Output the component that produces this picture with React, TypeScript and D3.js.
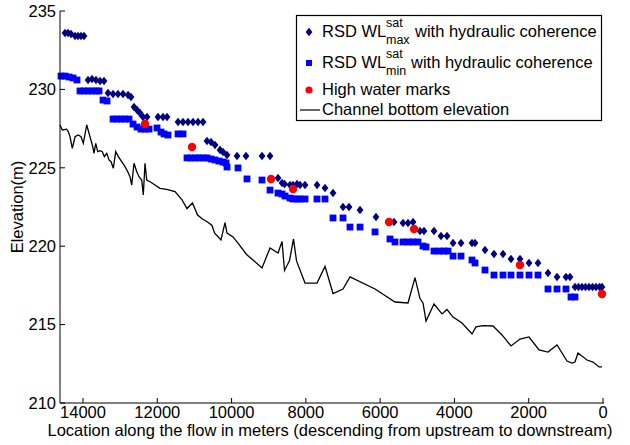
import React from "react";
import * as d3 from "d3";

// Channel bottom elevation (location m, elevation m)
const bottomX = [14620,14557,14439,14396,14350,14288,14215,14127,14054,13992,13900,13812,13739,13704,13658,13604,13542,13480,13426,13362,13300,13246,13184,13120,13049,12958,12869,12796,12735,12689,12627,12554,12492,12420,12377,12331,12285,12196,12062,11927,11747,11523,11335,11200,11052,10917,10783,10648,10527,10460,10285,10177,10123,9962,9827,9598,9423,9181,8965,8750,8642,8575,8440,8333,8252,8023,7700,7485,7269,7000,6812,6138,5600,5250,5062,4927,4846,4765,4550,4335,4200,4038,3796,3527,3419,3231,2962,2719,2477,2235,1992,1723,1481,1238,969,835,754,673,431,269,108,27];
const bottomY = [227.73,227.41,227.46,227.30,226.98,226.24,226.98,227.09,226.98,226.56,227.73,226.98,226.35,225.92,226.56,226.03,226.09,226.03,225.71,225.92,225.50,225.39,224.97,226.03,225.71,225.39,225.07,224.75,224.43,223.90,225.29,224.75,224.43,224.22,223.27,225.29,224.22,224.11,223.90,223.69,223.63,223.48,222.95,222.40,222.76,221.99,221.73,221.54,221.32,220.84,220.40,221.51,220.84,220.59,220.20,219.47,219.12,218.61,219.89,219.57,220.30,218.45,219.09,220.46,219.06,217.65,217.65,218.71,216.98,217.27,218.04,217.27,216.44,216.38,218.00,216.66,216.38,215.23,216.31,215.68,215.96,215.48,215.10,214.40,214.85,214.94,214.91,214.34,213.64,214.08,214.21,213.38,213.25,213.70,212.68,212.55,212.61,213.19,212.74,212.61,212.30,212.30];

// RSD WL max (diamonds)
const maxX = [14485,14404,14323,14215,14135,14054,13973,13865,13758,13650,13542,13435,13327,13192,13058,12923,12788,12708,12627,12546,12465,12385,12277,11981,11846,11738,11442,11308,11173,11038,10904,10769,10662,10554,10446,10312,10231,10123,9854,9612,9181,8965,8750,8642,8573,8427,8346,8238,8158,8023,7700,7485,7269,7000,6838,6542,6112,5627,5385,5250,5115,4927,4819,4550,4362,4200,4038,3823,3527,3446,3177,2935,2692,2477,2235,1992,1750,1481,1238,996,888,754,660,565,471,377,283,188,94,27];
const maxY = [233.60,233.60,233.53,233.41,233.41,233.41,233.41,230.60,230.66,230.60,230.54,230.54,229.77,229.71,229.71,229.71,229.64,229.52,228.88,228.69,228.49,228.24,228.24,228.24,228.24,228.24,227.92,227.92,227.92,227.92,227.92,227.92,226.71,226.65,226.45,226.14,226.01,225.82,225.75,225.75,225.75,225.75,224.35,224.03,223.97,223.90,223.90,223.97,223.90,223.90,223.90,223.71,223.39,222.50,222.50,222.31,221.86,221.54,221.48,221.48,221.54,220.97,220.97,220.97,220.65,220.65,220.20,220.20,220.20,220.20,219.76,219.50,219.50,219.18,219.18,218.93,218.93,218.29,218.04,218.04,218.04,217.40,217.40,217.40,217.40,217.40,217.40,217.40,217.40,217.40];

// RSD WL min (squares)
const minX = [14592,14485,14377,14269,14162,14081,13973,13865,13758,13650,13569,13462,13354,13192,13085,12977,12869,12762,12654,12546,12439,12331,12223,12008,11900,11819,11712,11442,11308,11200,11092,10985,10877,10769,10662,10554,10446,10338,10231,10150,10123,9827,9585,9181,8965,8750,8642,8562,8427,8346,8238,8158,8023,7700,7485,7269,7000,6812,6542,6138,5735,5600,5385,5250,5115,4981,4846,4765,4550,4415,4281,4173,4038,3823,3527,3446,3177,2935,2692,2477,2235,1992,1750,1481,1238,996,861,754];
const minY = [230.85,230.85,230.79,230.73,230.60,229.90,229.90,229.90,229.90,229.90,229.90,229.32,229.26,228.11,228.11,228.11,228.11,228.11,227.79,227.60,227.47,227.47,227.47,227.54,227.28,227.16,227.09,227.16,227.16,225.63,225.63,225.63,225.63,225.63,225.63,225.56,225.50,225.43,225.37,225.31,225.05,224.99,224.29,224.22,223.58,223.39,223.33,223.20,223.07,223.01,223.01,223.01,223.01,223.01,223.01,221.80,221.80,221.22,221.22,220.91,220.46,220.27,220.27,220.27,220.27,220.27,220.01,219.95,219.69,219.69,219.69,219.69,219.37,219.37,219.12,218.93,218.48,218.16,218.16,218.16,218.16,218.16,218.16,217.27,217.27,217.27,216.76,216.76];

// High water marks
const hwmX = [12331,11065,8938,8346,5761,5088,2235,27];
const hwmY = [227.79,226.33,224.29,223.65,221.54,221.10,218.80,216.95];

const xTicks = [14000,12000,10000,8000,6000,4000,2000,0];
const yTicks = [210,215,220,225,230,235];

const W = 630, H = 445;
const L = 60, R = 603, T = 11, B = 403;
const FONT = "'Liberation Sans', Arial, sans-serif";

const diamond = (cx: number, cy: number) =>
  `M${cx},${cy - 4.3}L${cx + 3.4},${cy}L${cx},${cy + 4.3}L${cx - 3.4},${cy}Z`;

export default function App() {
  const x = d3.scaleLinear().domain([14620, 0]).range([L, R]);
  const y = d3.scaleLinear().domain([210, 235]).range([B, T]);
  const line = d3.line<number>().x((_, i) => x(bottomX[i])).y((d) => y(d));
  const fs = 16.5;
  const ss = 12.5;
  return (
    <svg width={W} height={H} style={{ position: "absolute", left: 0, top: 0, background: "#fff" }} fontFamily={FONT}>
      <rect x={0} y={0} width={W} height={H} fill="#fff" />
      {/* markers */}
      {maxY.map((v, i) => (
        <path key={"d" + i} d={diamond(x(maxX[i]), y(v))} fill="#000080" />
      ))}
      {minY.map((v, i) => (
        <rect key={"s" + i} x={x(minX[i]) - 3.4} y={y(v) - 3.4} width={6.8} height={6.8} fill="#0000ff" />
      ))}
      {hwmY.map((v, i) => (
        <circle key={"c" + i} cx={x(hwmX[i])} cy={y(v)} r={4.2} fill="#ff0000" />
      ))}
      <path d={line(bottomY) || ""} fill="none" stroke="#000" strokeWidth={1.3} />
      {/* axes */}
      <line x1={L} x2={L} y1={T} y2={B} stroke="#000" strokeWidth={1} />
      <line x1={L} x2={R + 1} y1={B} y2={B} stroke="#000" strokeWidth={1} />
      {yTicks.map((t) => (
        <g key={"yt" + t}>
          <line x1={L} x2={L + 5} y1={y(t)} y2={y(t)} stroke="#000" />
          <text x={L - 4} y={y(t)} dy="0.35em" textAnchor="end" fontSize={fs}>{t}</text>
        </g>
      ))}
      {xTicks.map((t) => (
        <g key={"xt" + t}>
          <line x1={x(t)} x2={x(t)} y1={B} y2={B - 5} stroke="#000" />
          <text x={x(t)} y={B + 15} textAnchor="middle" fontSize={fs}>{t}</text>
        </g>
      ))}
      <text x={330} y={436} textAnchor="middle" fontSize={fs}>
        Location along the flow in meters (descending from upstream to downstream)
      </text>
      <text transform={`translate(23,${(T + B) / 2}) rotate(-90)`} textAnchor="middle" fontSize={fs}>
        Elevation(m)
      </text>
      {/* legend */}
      <rect x={296.5} y={15.5} width={305} height={105} fill="#fff" stroke="#000" strokeWidth={1.2} />
      <path d={diamond(309, 32)} fill="#000080" />
      <text x={322} y={37} fontSize={fs}>RSD WL</text>
      <text x={386} y={27} fontSize={ss}>sat</text>
      <text x={386} y={44} fontSize={ss}>max</text>
      <text x={415} y={37} fontSize={fs}>with hydraulic coherence</text>
      <rect x={306} y={60} width={6} height={6} fill="#0000ff" />
      <text x={322} y={68} fontSize={fs}>RSD WL</text>
      <text x={386} y={58} fontSize={ss}>sat</text>
      <text x={386} y={75} fontSize={ss}>min</text>
      <text x={411} y={68} fontSize={fs}>with hydraulic coherence</text>
      <circle cx={309} cy={90} r={3.6} fill="#ff0000" />
      <text x={322} y={95} fontSize={fs}>High water marks</text>
      <line x1={300} x2={320} y1={110} y2={110} stroke="#000" strokeWidth={1.2} />
      <text x={322} y={115} fontSize={fs}>Channel bottom elevation</text>
    </svg>
  );
}
